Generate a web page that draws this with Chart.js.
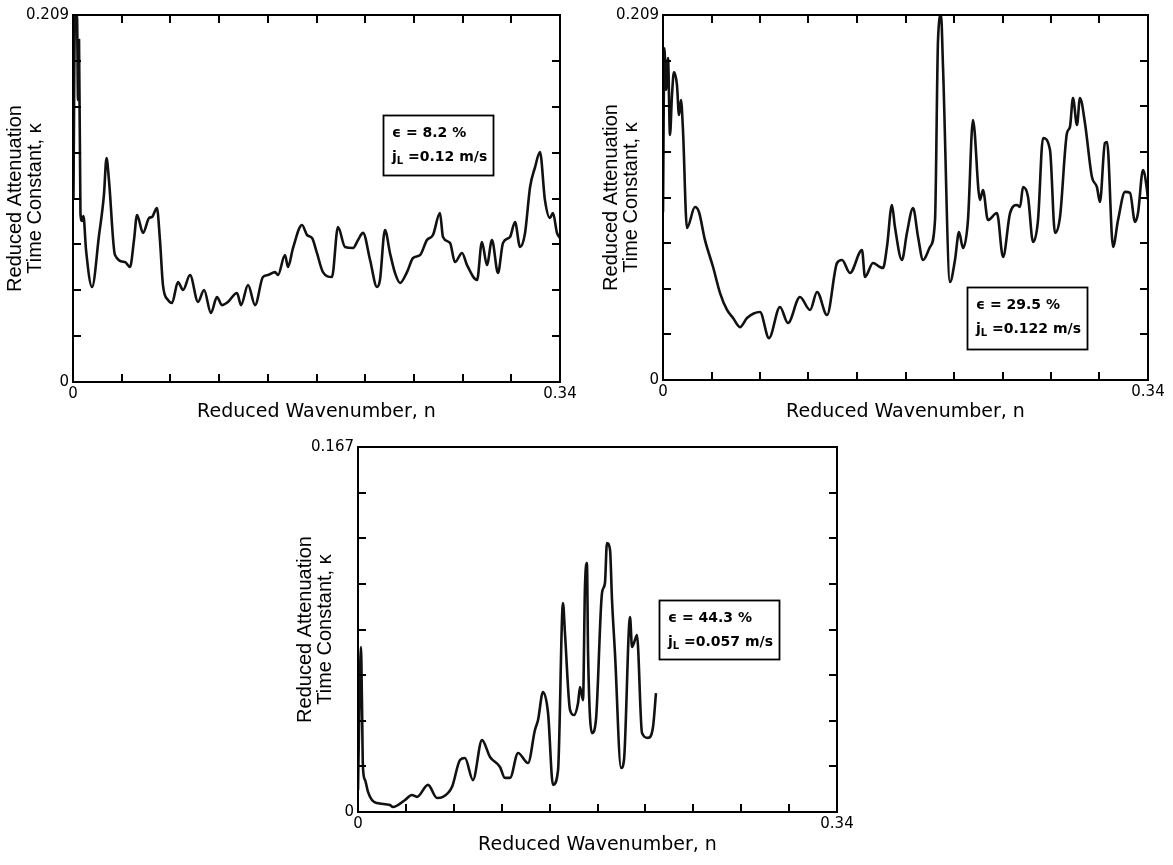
<!DOCTYPE html>
<html>
<head>
<meta charset="utf-8">
<script src="https://cdn.jsdelivr.net/npm/chart.js@4.4.1/dist/chart.umd.min.js"></script>
<style>
  html, body { margin: 0; padding: 0; background: #fff; }
  #page { position: relative; width: 1173px; height: 865px; overflow: hidden; }
  canvas { position: absolute; }
</style>
</head>
<body>
<div id="page">
  <canvas id="panelA" width="580" height="430" style="left:0;top:0"></canvas>
  <canvas id="panelB" width="583" height="430" style="left:590px;top:0"></canvas>
  <canvas id="panelC" width="572" height="433" style="left:285px;top:432px"></canvas>
</div>
<script>
// axis text
const xTitle = 'Reduced Wavenumber, n';
const yTitle = ['Reduced Attenuation', 'Time Constant, \u03ba'];
const nMax = 0.34;
const xTickLabels = ['0', '0.34'];
const yTickLabelsTop = ['0', '0.209'];
const yTickLabelsBottom = ['0', '0.167'];

// box notes: void fraction and liquid flux
const voidFractions = ['8.2 %', '29.5 %', '44.3 %'];
const liquidFluxes = ['0.12 m/s', '0.122 m/s', '0.057 m/s'];

// panel A (eps = 8.2 %)
const nA = [
  0.0003, 0.0014, 0.0028, 0.0035, 0.0042, 0.0052, 0.0063, 0.0073, 0.0091, 0.0133,
  0.0182, 0.0216, 0.0234, 0.0251, 0.0293, 0.0363, 0.0398, 0.0426, 0.0447, 0.0489,
  0.0531, 0.0552, 0.0586, 0.0607, 0.0628, 0.0663, 0.0691, 0.0733, 0.0768, 0.0817,
  0.0873, 0.0915, 0.0963, 0.1005, 0.1040, 0.1082, 0.1145, 0.1173, 0.1222, 0.1271,
  0.1326, 0.1361, 0.1410, 0.1431, 0.1480, 0.1501, 0.1536, 0.1599, 0.1634, 0.1669,
  0.1703, 0.1745, 0.1808, 0.1850, 0.1899, 0.1955, 0.1990, 0.2025, 0.2074, 0.2122,
  0.2143, 0.2178, 0.2213, 0.2248, 0.2283, 0.2332, 0.2374, 0.2423, 0.2471, 0.2513,
  0.2562, 0.2583, 0.2632, 0.2667, 0.2716, 0.2751, 0.2821, 0.2855, 0.2890, 0.2925,
  0.2967, 0.3002, 0.3051, 0.3086, 0.3121, 0.3156, 0.3191, 0.3226, 0.3260, 0.3295,
  0.3330, 0.3351, 0.3379, 0.3400
];
const kappaA = [
  0.1036, 0.2084, 0.2084, 0.1606, 0.1948, 0.0962, 0.0917, 0.0945, 0.0752, 0.0541,
  0.0837, 0.1065, 0.1276, 0.1150, 0.0723, 0.0683, 0.0655, 0.0809, 0.0951, 0.0849,
  0.0934, 0.0940, 0.0991, 0.0809, 0.0552, 0.0467, 0.0450, 0.0569, 0.0524, 0.0609,
  0.0456, 0.0524, 0.0393, 0.0484, 0.0438, 0.0456, 0.0507, 0.0438, 0.0552, 0.0438,
  0.0598, 0.0609, 0.0626, 0.0609, 0.0723, 0.0655, 0.0763, 0.0894, 0.0837, 0.0820,
  0.0735, 0.0626, 0.0598, 0.0883, 0.0769, 0.0763, 0.0809, 0.0849, 0.0695, 0.0541,
  0.0581, 0.0866, 0.0735, 0.0621, 0.0564, 0.0626, 0.0706, 0.0723, 0.0809, 0.0837,
  0.0962, 0.0826, 0.0792, 0.0683, 0.0735, 0.0666, 0.0581, 0.0797, 0.0666, 0.0809,
  0.0621, 0.0792, 0.0826, 0.0911, 0.0769, 0.0849, 0.1110, 0.1224, 0.1310, 0.1036,
  0.0934, 0.0962, 0.0849, 0.0820
];

// panel B (eps = 29.5 %)
const nB = [
  0.0000, 0.0010, 0.0021, 0.0035, 0.0049, 0.0063, 0.0077, 0.0098, 0.0112, 0.0126, 0.0140,
  0.0168, 0.0224, 0.0252, 0.0294, 0.0351, 0.0400, 0.0449, 0.0491, 0.0540, 0.0589,
  0.0680, 0.0743, 0.0820, 0.0876, 0.0960, 0.1031, 0.1080, 0.1150, 0.1220, 0.1255,
  0.1311, 0.1395, 0.1416, 0.1472, 0.1521, 0.1542, 0.1570, 0.1605, 0.1626, 0.1675,
  0.1710, 0.1753, 0.1788, 0.1823, 0.1872, 0.1907, 0.1928, 0.1949, 0.1963, 0.2012,
  0.2047, 0.2075, 0.2103, 0.2138, 0.2173, 0.2222, 0.2243, 0.2278, 0.2341, 0.2384,
  0.2433, 0.2482, 0.2503, 0.2524, 0.2559, 0.2594, 0.2629, 0.2664, 0.2713, 0.2748,
  0.2783, 0.2832, 0.2853, 0.2874, 0.2902, 0.2923, 0.2958, 0.3007, 0.3042, 0.3063,
  0.3098, 0.3113, 0.3155, 0.3190, 0.3239, 0.3274, 0.3309, 0.3330, 0.3365, 0.3393,
  0.3400
];
const kappaB = [
  0.0960, 0.1900, 0.1661, 0.1844, 0.1403, 0.1632, 0.1764, 0.1689, 0.1517, 0.1603, 0.1432,
  0.0870, 0.0991, 0.0962, 0.0802, 0.0647, 0.0498, 0.0401, 0.0355, 0.0303, 0.0355,
  0.0389, 0.0240, 0.0418, 0.0326, 0.0475, 0.0401, 0.0504, 0.0372, 0.0670, 0.0687,
  0.0613, 0.0744, 0.0590, 0.0670, 0.0647, 0.0641, 0.0762, 0.1002, 0.0876, 0.0687,
  0.0842, 0.0985, 0.0819, 0.0687, 0.0762, 0.0916, 0.1947, 0.2090, 0.1792, 0.0561,
  0.0687, 0.0847, 0.0756, 0.0916, 0.1489, 0.1031, 0.1088, 0.0916, 0.0956, 0.0704,
  0.0956, 0.1002, 0.0991, 0.1105, 0.1048, 0.0790, 0.0916, 0.1386, 0.1317, 0.0842,
  0.0933, 0.1414, 0.1449, 0.1615, 0.1460, 0.1615, 0.1472, 0.1162, 0.1105, 0.1019,
  0.1357, 0.1363, 0.0762, 0.0916, 0.1077, 0.1071, 0.0905, 0.0956, 0.1202, 0.1088,
  0.1031
];

// panel C (eps = 44.3 %)
const nC = [
  0.0000, 0.0011, 0.0021, 0.0028, 0.0035, 0.0050, 0.0071, 0.0099, 0.0135, 0.0227,
  0.0248, 0.0334, 0.0383, 0.0419, 0.0497, 0.0561, 0.0603, 0.0667, 0.0724, 0.0759,
  0.0816, 0.0880, 0.0937, 0.1008, 0.1043, 0.1079, 0.1136, 0.1207, 0.1256, 0.1278,
  0.1313, 0.1349, 0.1384, 0.1420, 0.1455, 0.1469, 0.1505, 0.1533, 0.1562, 0.1576,
  0.1597, 0.1611, 0.1625, 0.1633, 0.1661, 0.1689, 0.1732, 0.1753, 0.1767, 0.1789,
  0.1803, 0.1824, 0.1867, 0.1888, 0.1931, 0.1945, 0.1966, 0.1980, 0.2016, 0.2058,
  0.2094, 0.2115
];
const kappaC = [
  0.0101, 0.0512, 0.0755, 0.0512, 0.0206, 0.0146, 0.0092, 0.0055, 0.0041, 0.0032,
  0.0023, 0.0055, 0.0078, 0.0069, 0.0124, 0.0064, 0.0069, 0.0114, 0.0238, 0.0247,
  0.0146, 0.0329, 0.0252, 0.0206, 0.0156, 0.0156, 0.0270, 0.0224, 0.0375, 0.0421,
  0.0549, 0.0453, 0.0124, 0.0192, 0.0956, 0.0819, 0.0467, 0.0444, 0.0499, 0.0572,
  0.0512, 0.1029, 0.1139, 0.0727, 0.0361, 0.0421, 0.1002, 0.1048, 0.1231, 0.1199,
  0.0970, 0.0727, 0.0201, 0.0238, 0.0892, 0.0755, 0.0787, 0.0810, 0.0361, 0.0339,
  0.0389, 0.0544
];

Chart.defaults.font.family = '"DejaVu Sans", sans-serif';
Chart.defaults.color = '#000';

// box outline plus inward tick marks on every side
const framePlugin = {
  id: 'frame',
  afterDatasetsDraw(chart, args, opts) {
    const { ctx, chartArea: a, scales: { x, y } } = chart;
    const len = 8;
    ctx.save();
    ctx.strokeStyle = '#000';
    ctx.lineWidth = 2;
    ctx.strokeRect(a.left, a.top, a.right - a.left, a.bottom - a.top);
    ctx.beginPath();
    x.ticks.slice(1, -1).forEach(t => {
      const px = Math.round(x.getPixelForValue(t.value));
      ctx.moveTo(px, a.bottom); ctx.lineTo(px, a.bottom - len);
      if (opts.topTicks) { ctx.moveTo(px, a.top); ctx.lineTo(px, a.top + len); }
    });
    y.ticks.slice(1, -1).forEach(t => {
      const py = Math.round(y.getPixelForValue(t.value));
      ctx.moveTo(a.left, py); ctx.lineTo(a.left + len, py);
      ctx.moveTo(a.right, py); ctx.lineTo(a.right - len, py);
    });
    ctx.stroke();
    ctx.restore();
  }
};

// the little boxed legend with epsilon and j_L
const notePlugin = {
  id: 'note',
  afterDraw(chart, args, o) {
    const { ctx, scales: { x, y } } = chart;
    const left = Math.round(x.getPixelForValue(o.n));
    const top = Math.round(y.getPixelForValue(o.k));
    ctx.save();
    ctx.fillStyle = '#fff';
    ctx.fillRect(left, top, o.w, o.h);
    ctx.strokeStyle = '#000';
    ctx.lineWidth = 1.8;
    ctx.strokeRect(left + 0.5, top + 0.5, o.w, o.h);
    ctx.fillStyle = '#000';
    ctx.textBaseline = 'middle';
    ctx.font = 'bold 14px "DejaVu Sans"';
    ctx.fillText('\u03f5 = ' + o.eps, left + 9, top + 18);
    ctx.fillText('j', left + 9, top + 42);
    const jw = ctx.measureText('j').width;
    ctx.font = 'bold 10px "DejaVu Sans"';
    ctx.fillText('L', left + 9 + jw, top + 46);
    const lw = ctx.measureText('L').width;
    ctx.font = 'bold 14px "DejaVu Sans"';
    ctx.fillText(' =' + o.jl, left + 9 + jw + lw, top + 42);
    ctx.restore();
  }
};

function makePanel(id, nValues, kappaValues, yMax, yLabels, note, cfg) {
  const points = nValues.map((n, i) => ({ x: n, y: kappaValues[i] }));
  return new Chart(document.getElementById(id), {
    type: 'line',
    data: {
      datasets: [{
        data: points,
        borderColor: '#111',
        borderWidth: 2.6,
        pointRadius: 0,
        fill: false,
        cubicInterpolationMode: 'monotone',
      }],
    },
    options: {
      responsive: false,
      animation: false,
      layout: { padding: { left: 0, top: 15, right: cfg.padRight, bottom: 0 } },
      plugins: {
        legend: { display: false },
        tooltip: { enabled: false },
        frame: { topTicks: cfg.topTicks },
        note: note,
      },
      scales: {
        x: {
          type: 'linear',
          min: 0,
          max: nMax,
          grid: { display: false, drawTicks: false },
          border: { display: false },
          ticks: {
            stepSize: nMax / 10,
            autoSkip: false,
            maxRotation: 0,
            padding: 3,
            font: { size: 15 },
            callback: (v, i, t) => i === 0 ? xTickLabels[0] : (i === t.length - 1 ? xTickLabels[1] : ''),
          },
          title: {
            display: true,
            text: xTitle,
            font: { family: '"DejaVu Sans"', size: 19 },
            padding: { top: 0, bottom: cfg.xTitlePad },
          },
          afterFit: s => { s.height = cfg.xHeight; },
        },
        y: {
          min: 0,
          max: yMax,
          grid: { display: false, drawTicks: false },
          border: { display: false },
          ticks: {
            stepSize: yMax / 8,
            autoSkip: false,
            padding: 4,
            font: { size: 15 },
            callback: (v, i, t) => i === 0 ? yLabels[0] : (i === t.length - 1 ? yLabels[1] : ''),
          },
          title: {
            display: true,
            text: yTitle,
            font: { family: '"Liberation Sans", Arial, sans-serif', size: 20, lineHeight: '20px' },
            padding: { top: cfg.yTitlePad, bottom: 0 },
          },
          afterFit: s => { s.width = 73; },
        },
      },
    },
    plugins: [framePlugin, notePlugin],
  });
}

makePanel('panelA', nA, kappaA, 0.209, yTickLabelsTop,
  { n: 0.2164, k: 0.1521, w: 110, h: 60, eps: voidFractions[0], jl: liquidFluxes[0] },
  { padRight: 20, topTicks: true, xHeight: 48, xTitlePad: 7, yTitlePad: 5 });

makePanel('panelB', nB, kappaB, 0.209, yTickLabelsTop,
  { n: 0.2131, k: 0.0533, w: 120, h: 62, eps: voidFractions[1], jl: liquidFluxes[1] },
  { padRight: 25, topTicks: true, xHeight: 50, xTitlePad: 7, yTitlePad: 11 });

makePanel('panelC', nC, kappaC, 0.167, yTickLabelsBottom,
  { n: 0.2137, k: 0.0970, w: 120, h: 59, eps: voidFractions[2], jl: liquidFluxes[2] },
  { padRight: 20, topTicks: false, xHeight: 53, xTitlePad: 9, yTitlePad: 10 });
</script>
</body>
</html>
